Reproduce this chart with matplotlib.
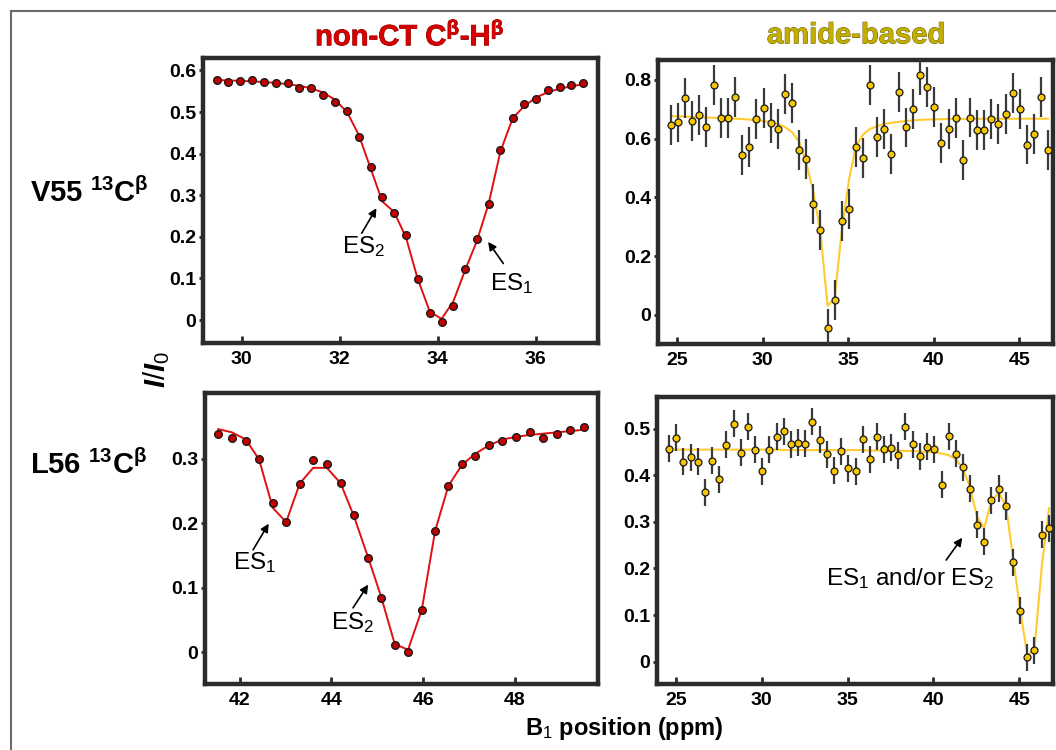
import matplotlib
matplotlib.use("Agg")
import matplotlib.pyplot as plt
import matplotlib.patheffects as pe
from matplotlib.patches import Rectangle
from matplotlib.ticker import FuncFormatter

plt.rcParams['font.family'] = ['Liberation Sans', 'DejaVu Sans']
plt.rcParams['mathtext.fontset'] = 'custom'
plt.rcParams['mathtext.rm'] = 'Liberation Sans'
plt.rcParams['mathtext.bf'] = 'Liberation Sans:bold'
plt.rcParams['mathtext.it'] = 'Liberation Sans:italic:bold'
plt.rcParams['mathtext.default'] = 'bf'

# V55 non-CT CB-HB (top left)
v55_ct_x = [29.49, 29.73, 29.97, 30.21, 30.46, 30.70, 30.94, 31.18, 31.42, 31.66,
            31.90, 32.15, 32.39, 32.63, 32.87, 33.11, 33.35, 33.59, 33.84, 34.08,
            34.32, 34.56, 34.80, 35.04, 35.28, 35.53, 35.77, 36.01, 36.25, 36.49,
            36.73, 36.97]
v55_ct_y = [0.578, 0.572, 0.575, 0.576, 0.573, 0.569, 0.569, 0.559, 0.557, 0.541,
            0.523, 0.502, 0.441, 0.368, 0.297, 0.258, 0.205, 0.099, 0.018, -0.004,
            0.035, 0.123, 0.196, 0.279, 0.408, 0.486, 0.519, 0.532, 0.553, 0.561,
            0.565, 0.570]
v55_ct_fit = [0.577, 0.576, 0.575, 0.574, 0.572, 0.570, 0.567, 0.563, 0.557, 0.547,
              0.530, 0.500, 0.445, 0.365, 0.285, 0.260, 0.200, 0.100, 0.020, 0.003,
              0.045, 0.120, 0.190, 0.280, 0.405, 0.485, 0.515, 0.535, 0.548, 0.556,
              0.562, 0.567]

# L56 non-CT CB-HB (bottom left)
l56_ct_x = [41.53, 41.83, 42.13, 42.42, 42.72, 43.01, 43.31, 43.60, 43.90, 44.20,
            44.49, 44.79, 45.08, 45.38, 45.67, 45.97, 46.26, 46.55, 46.85, 47.14,
            47.44, 47.73, 48.03, 48.32, 48.62, 48.91, 49.21, 49.50]
l56_ct_y = [0.338, 0.333, 0.328, 0.300, 0.232, 0.202, 0.261, 0.298, 0.292, 0.262,
            0.213, 0.147, 0.084, 0.011, 0.000, 0.066, 0.188, 0.258, 0.292, 0.305,
            0.321, 0.327, 0.334, 0.342, 0.333, 0.339, 0.344, 0.350]
l56_ct_fit = [0.346, 0.341, 0.330, 0.299, 0.224, 0.202, 0.262, 0.286, 0.286, 0.262,
              0.211, 0.149, 0.087, 0.013, 0.004, 0.066, 0.188, 0.258, 0.291, 0.308,
              0.321, 0.330, 0.334, 0.337, 0.339, 0.341, 0.343, 0.345]

# V55 amide-based (top right)
v55_am_x = [24.63, 25.04, 25.47, 25.88, 26.29, 26.70, 27.13, 27.54, 27.95, 28.37,
            28.80, 29.21, 29.62, 30.05, 30.46, 30.87, 31.28, 31.71, 32.12, 32.53,
            32.95, 33.36, 33.79, 34.20, 34.61, 35.04, 35.45, 35.88, 36.27, 36.70,
            37.11, 37.52, 37.95, 38.37, 38.78, 39.21, 39.62, 40.03, 40.44, 40.87,
            41.28, 41.69, 42.10, 42.53, 42.94, 43.36, 43.77, 44.20, 44.61, 45.02,
            45.45, 45.86, 46.27, 46.68]
v55_am_y = [0.647, 0.655, 0.738, 0.661, 0.681, 0.639, 0.783, 0.669, 0.669, 0.741,
            0.545, 0.573, 0.666, 0.704, 0.652, 0.632, 0.751, 0.722, 0.562, 0.530,
            0.376, 0.288, -0.047, 0.050, 0.318, 0.361, 0.571, 0.533, 0.783, 0.607,
            0.633, 0.547, 0.760, 0.638, 0.701, 0.817, 0.775, 0.709, 0.585, 0.632,
            0.670, 0.528, 0.672, 0.628, 0.629, 0.667, 0.649, 0.683, 0.757, 0.700,
            0.580, 0.615, 0.743, 0.562]
v55_am_fit = [0.677, 0.676, 0.675, 0.674, 0.673, 0.672, 0.671, 0.670, 0.669, 0.668,
              0.667, 0.665, 0.663, 0.660, 0.656, 0.650, 0.640, 0.622, 0.590, 0.520,
              0.420, 0.285, 0.030, 0.055, 0.280, 0.460, 0.575, 0.615, 0.633, 0.643,
              0.650, 0.654, 0.657, 0.660, 0.662, 0.664, 0.665, 0.666, 0.666, 0.667,
              0.667, 0.667, 0.667, 0.667, 0.668, 0.668, 0.668, 0.668, 0.668, 0.668,
              0.668, 0.668, 0.668, 0.668]
v55_am_err = 0.068

# L56 amide-based (bottom right)
l56_am_x = [24.59, 25.02, 25.43, 25.86, 26.27, 26.70, 27.12, 27.53, 27.94, 28.37,
            28.78, 29.20, 29.63, 30.04, 30.45, 30.88, 31.29, 31.71, 32.12, 32.55,
            32.96, 33.37, 33.80, 34.22, 34.63, 35.04, 35.47, 35.88, 36.29, 36.73,
            37.14, 37.55, 37.96, 38.37, 38.80, 39.22, 39.63, 40.06, 40.47, 40.88,
            41.29, 41.71, 42.12, 42.55, 42.96, 43.37, 43.80, 44.22, 44.63, 45.04,
            45.47, 45.88, 46.31, 46.73]
l56_am_y = [0.457, 0.481, 0.429, 0.439, 0.429, 0.364, 0.431, 0.391, 0.465, 0.511,
            0.448, 0.504, 0.455, 0.409, 0.455, 0.483, 0.494, 0.467, 0.470, 0.468,
            0.515, 0.476, 0.445, 0.410, 0.452, 0.415, 0.409, 0.477, 0.434, 0.483,
            0.456, 0.459, 0.443, 0.504, 0.467, 0.441, 0.461, 0.456, 0.380, 0.484,
            0.446, 0.417, 0.371, 0.294, 0.257, 0.346, 0.371, 0.334, 0.213, 0.109,
            0.009, 0.024, 0.272, 0.286]
l56_am_fit = [0.455, 0.455, 0.455, 0.455, 0.455, 0.455, 0.455, 0.455, 0.455, 0.455,
              0.455, 0.455, 0.455, 0.455, 0.455, 0.455, 0.454, 0.454, 0.454, 0.454,
              0.454, 0.454, 0.454, 0.454, 0.454, 0.454, 0.454, 0.454, 0.453, 0.453,
              0.453, 0.453, 0.453, 0.452, 0.452, 0.451, 0.450, 0.449, 0.447, 0.443,
              0.435, 0.415, 0.375, 0.310, 0.287, 0.345, 0.362, 0.335, 0.225, 0.113,
              0.012, 0.028, 0.205, 0.329]
l56_am_err = 0.029

ct_red = '#e01010'
am_gold = '#f7c600'
am_line = '#ffcb2e'
spine_col = '#2b2b2b'

fig = plt.figure(figsize=(10.56, 7.5), dpi=100)

def style_axes(ax, xlim, ylim, xticks, yticks):
    ax.set_xlim(*xlim)
    ax.set_ylim(*ylim)
    ax.set_xticks(xticks)
    ax.set_yticks(yticks)
    ax.yaxis.set_major_formatter(FuncFormatter(lambda v, p: '%g' % round(v, 2)))
    for s in ax.spines.values():
        s.set_linewidth(3.2)
        s.set_color(spine_col)
    ax.tick_params(axis='x', direction='in', length=5, width=2, color=spine_col,
                   labelsize=14, pad=6)
    ax.tick_params(axis='y', direction='out', length=3, width=2, color=spine_col,
                   labelsize=14, pad=2)
    for lab in ax.get_xticklabels() + ax.get_yticklabels():
        lab.set_fontweight('bold')

# top left
ax1 = fig.add_axes([0.1922, 0.5427, 0.374, 0.38])
ax1.plot(v55_ct_x, v55_ct_fit, color=ct_red, lw=1.4, zorder=2)
ax1.plot(v55_ct_x, v55_ct_y, 'o', ms=5.5, mfc='#c40000', mec='#1a1a1a', mew=1.0, zorder=3)
style_axes(ax1, (29.21, 37.27), (-0.055, 0.63), [30, 32, 34, 36],
           [0, 0.1, 0.2, 0.3, 0.4, 0.5, 0.6])

# top right
ax2 = fig.add_axes([0.6231, 0.5413, 0.374, 0.3787])
ax2.plot(v55_am_x, v55_am_fit, color=am_line, lw=1.5, zorder=2)
ax2.errorbar(v55_am_x, v55_am_y, yerr=v55_am_err, fmt='o', ms=5, mfc=am_gold,
             mec='#1a1a1a', mew=0.9, ecolor='#3a3a3a', elinewidth=1.6, capsize=0, zorder=3)
style_axes(ax2, (23.87, 46.97), (-0.1, 0.868), [25, 30, 35, 40, 45],
           [0, 0.2, 0.4, 0.6, 0.8])

# bottom left
ax3 = fig.add_axes([0.1941, 0.088, 0.372, 0.388])
ax3.plot(l56_ct_x, l56_ct_fit, color=ct_red, lw=1.4, zorder=2)
ax3.plot(l56_ct_x, l56_ct_y, 'o', ms=5.5, mfc='#c40000', mec='#1a1a1a', mew=1.0, zorder=3)
style_axes(ax3, (41.24, 49.81), (-0.049, 0.402), [42, 44, 46, 48],
           [0, 0.1, 0.2, 0.3])

# bottom right
ax4 = fig.add_axes([0.622, 0.088, 0.375, 0.3827])
ax4.plot(l56_am_x, l56_am_fit, color=am_line, lw=1.5, zorder=2)
ax4.errorbar(l56_am_x, l56_am_y, yerr=l56_am_err, fmt='o', ms=5, mfc=am_gold,
             mec='#1a1a1a', mew=0.9, ecolor='#3a3a3a', elinewidth=1.6, capsize=0, zorder=3)
style_axes(ax4, (23.9, 46.95), (-0.048, 0.568), [25, 30, 35, 40, 45],
           [0, 0.1, 0.2, 0.3, 0.4, 0.5])

# annotations
arr = dict(arrowstyle='-|>', color='black', lw=1.2, mutation_scale=12,
           shrinkA=0, shrinkB=0)
ann_kw = dict(fontsize=17.5, ha='center', va='center', fontweight='normal')
ax1.annotate('', xy=(32.75, 0.269), xytext=(32.45, 0.209), arrowprops=arr)
ax1.text(32.48, 0.176, r'ES$_{\mathrm{2}}$', **ann_kw)
ax1.annotate('', xy=(35.03, 0.188), xytext=(35.34, 0.136), arrowprops=arr)
ax1.text(35.51, 0.088, r'ES$_{\mathrm{1}}$', **ann_kw)
ax3.annotate('', xy=(42.63, 0.1995), xytext=(42.29, 0.159), arrowprops=arr)
ax3.text(42.33, 0.139, r'ES$_{\mathrm{1}}$', **ann_kw)
ax3.annotate('', xy=(44.80, 0.105), xytext=(44.47, 0.069), arrowprops=arr)
ax3.text(44.47, 0.0456, r'ES$_{\mathrm{2}}$', **ann_kw)
ax4.annotate('', xy=(41.68, 0.266), xytext=(40.74, 0.218), arrowprops=arr)
ax4.text(38.66, 0.179, r'ES$_{\mathrm{1}}$ and/or ES$_{\mathrm{2}}$', **ann_kw)

# column titles
fig.text(0.388, 0.952, r'non-CT C$^{\beta}$-H$^{\beta}$', color='#d60000', fontsize=21,
         fontweight='bold', ha='center', va='center',
         path_effects=[pe.withStroke(linewidth=0.6, foreground='#7a0000')])
fig.text(0.8106, 0.953, 'amide-based', color='#c2ad00', fontsize=21,
         fontweight='bold', ha='center', va='center',
         path_effects=[pe.withStroke(linewidth=0.6, foreground='#5e5300')])

# row labels
fig.text(0.0284, 0.743, r'V55 $^{13}$C$^{\beta}$', fontsize=21, fontweight='bold',
         ha='left', va='center')
fig.text(0.0284, 0.38, r'L56 $^{13}$C$^{\beta}$', fontsize=21, fontweight='bold',
         ha='left', va='center')

# shared axis labels
fig.text(0.1487, 0.507, r'$\mathit{I/I_0}$', fontsize=21, rotation=90,
         ha='center', va='center')
fig.text(0.591, 0.029, r'B$_{\mathrm{1}}$ position (ppm)', fontsize=17,
         fontweight='bold', ha='center', va='center')

# outer frame
fig.add_artist(Rectangle((0.0104, -0.05), 1.2, 0.9853 + 0.05, transform=fig.transFigure,
                         fill=False, edgecolor='#6a6a6a', lw=1.5))

fig.savefig('out.png', dpi=100)
